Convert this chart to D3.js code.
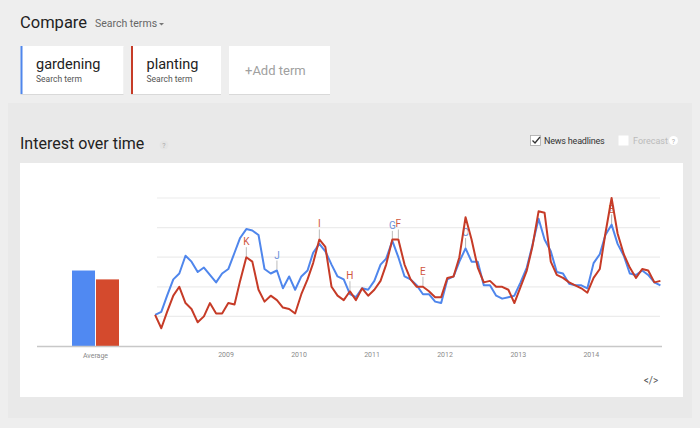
<!DOCTYPE html>
<html><head><meta charset="utf-8">
<script src="https://cdn.jsdelivr.net/npm/d3@7"></script>
<style>
html,body{margin:0;padding:0;background:#ededed;}
svg{display:block;}
text{font-family:Roboto,"Liberation Sans",Arial,sans-serif;}
</style></head>
<body>
<svg id="chart" width="700" height="428"></svg>
<script>
// ---------- data ----------
const terms = ["gardening", "planting"];
const averages = [51, 45];
const startMonth = "2008-01";
const gardening = [21,23,34,45,49,61,57,50,53,48,43,49,
  52,63,73,79,78,75,52,49,51,39,47,38,
  47,51,63,69,64,55,47,45,35,33,39,38,
  44,55,59,71,60,47,45,41,35,35,30,29,
  45,47,57,66,57,57,41,41,34,32,33,34,
  43,53,68,86,72,64,50,49,42,41,41,39,
  56,62,75,82,69,61,49,48,51,48,43,41];
const planting = [21,12,23,34,40,29,25,16,20,29,22,22,
  29,28,44,60,57,38,30,34,31,26,25,22,
  35,45,56,72,67,40,34,31,37,31,39,34,
  38,44,55,72,72,55,45,40,40,37,33,33,
  46,47,60,87,72,53,43,44,40,40,38,29,
  40,51,67,91,90,57,48,46,43,41,39,36,
  46,52,76,100,76,62,53,46,52,51,43,44];
const yearTicks = ["2009","2010","2011","2012","2013","2014"];
const gridValues = [20,40,60,80,100];
// news headline flags: letter, colour of the term, anchored series, month
const markerLetters = ["K","J","I","H","G","F","E","D","C","A","B"];
const markerTerms   = ["planting","gardening","planting","planting","gardening","planting","planting","planting","gardening","gardening","planting"];
const markerAnchor  = ["planting","gardening","planting","planting","gardening","planting","planting","gardening","gardening","gardening","gardening"];
const markerMonths  = ["2009-04","2009-09","2010-04","2010-09","2011-04","2011-05","2011-09","2012-04","2012-04","2014-04","2014-04"];

// ---------- setup ----------
const svg = d3.select("#chart");
const colors = {gardening:"#4f86ec", planting:"#c63b27"};
const barColors = {gardening:"#5089f2", planting:"#d44a2d"};
const parseM = d3.timeParse("%Y-%m");
const t0 = parseM(startMonth);
const dates = gardening.map((d,i)=> d3.timeDay.offset(d3.timeMonth.offset(t0,i),14));
const series = {gardening, planting};

// background section
svg.append("rect").attr("x",0).attr("y",0).attr("width",700).attr("height",428).attr("fill","#eeeeee");
svg.append("rect").attr("x",8).attr("y",103).attr("width",684).attr("height",315).attr("fill","#e9e9e9");

// header
svg.append("text").attr("x",20).attr("y",28).attr("font-size",16.5).attr("fill","#222").text("Compare");
svg.append("text").attr("x",95).attr("y",27).attr("font-size",10.5).attr("fill","#666").text("Search terms");
svg.append("path").attr("d","M159,23 l5,0 l-2.5,2.5 z").attr("fill","#777");

// cards
const cards = [
  {x:20.5,w:103,label:"gardening",c:colors.gardening},
  {x:131,w:90,label:"planting",c:colors.planting},
  {x:229,w:101,label:null,c:null}
];
cards.forEach(cd=>{
  svg.append("rect").attr("x",cd.x).attr("y",47).attr("width",cd.w).attr("height",48).attr("fill","#d9d9d9");
  svg.append("rect").attr("x",cd.x).attr("y",46).attr("width",cd.w).attr("height",48).attr("fill","#fff");
  if(cd.c){
    svg.append("rect").attr("x",cd.x).attr("y",46).attr("width",2).attr("height",48).attr("fill",cd.c);
    svg.append("text").attr("x",cd.x+15.5).attr("y",69).attr("font-size",14.5).attr("fill","#222").text(cd.label);
    svg.append("text").attr("x",cd.x+15.5).attr("y",82).attr("font-size",8.5).attr("fill","#555").text("Search term");
  } else {
    svg.append("text").attr("x",cd.x+16).attr("y",75).attr("font-size",13).attr("fill","#a0a0a0").text("+Add term");
  }
});

// interest over time header
svg.append("text").attr("x",20).attr("y",149).attr("font-size",16).attr("fill","#222").text("Interest over time");
svg.append("circle").attr("cx",164).attr("cy",145).attr("r",4.5).attr("fill","#e4e4e4");
svg.append("text").attr("x",164).attr("y",148).attr("text-anchor","middle").attr("font-size",7).attr("fill","#aaa").text("?");

// checkboxes
svg.append("rect").attr("x",530.5).attr("y",135.5).attr("width",10).attr("height",10).attr("fill","#fff").attr("stroke","#aaa").attr("stroke-width",0.8);
svg.append("path").attr("d","M532.5,140.5 l2.5,2.5 l5,-6").attr("fill","none").attr("stroke","#333").attr("stroke-width",1.3);
svg.append("text").attr("x",544).attr("y",143.5).attr("font-size",9).attr("fill","#333").attr("letter-spacing",-0.2).text("News headlines");
svg.append("rect").attr("x",618.5).attr("y",135.5).attr("width",10).attr("height",10).attr("fill","#fff");
svg.append("text").attr("x",633).attr("y",143.5).attr("font-size",9).attr("fill","#bbb").text("Forecast");
svg.append("circle").attr("cx",673.5).attr("cy",140.5).attr("r",4.5).attr("fill","#fff");
svg.append("text").attr("x",673.5).attr("y",143.5).attr("text-anchor","middle").attr("font-size",7).attr("fill","#aaa").text("?");

// chart panel
svg.append("rect").attr("x",20).attr("y",163).attr("width",663).attr("height",234).attr("fill","#fff");

// scales
const y = d3.scaleLinear().domain([0,100]).range([346,198]);
const x = d3.scaleTime().domain([t0, parseM("2015-01")]).range([152.3,663.8]);
const xb = d3.scaleBand().domain(terms).range([72,119]).paddingInner(0.04);

// gridlines
svg.append("g").selectAll("line").data(gridValues).join("line")
  .attr("x1",157).attr("x2",660).attr("y1",d=>y(d)).attr("y2",d=>y(d))
  .attr("stroke","#ececec").attr("stroke-width",1.2);

// average bars
svg.append("g").selectAll("rect").data(terms).join("rect")
  .attr("x",d=>xb(d)).attr("width",xb.bandwidth())
  .attr("y",(d,i)=>y(averages[i])).attr("height",(d,i)=>y(0)-y(averages[i]))
  .attr("fill",d=>barColors[d]);
svg.append("text").attr("x",95.5).attr("y",357.5).attr("text-anchor","middle")
  .attr("font-size",7).attr("fill","#888").attr("font-family","'Liberation Sans',Arial").text("Average");

// baseline
svg.append("line").attr("x1",37).attr("x2",662).attr("y1",y(0)+0.5).attr("y2",y(0)+0.5).attr("stroke","#c8c8c8").attr("stroke-width",1.5);

// x axis tick labels
const xAxis = d3.axisBottom(x).tickValues(yearTicks.map(s=>parseM(s+"-01"))).tickFormat(d3.timeFormat("%Y")).tickSize(0).tickPadding(6);
const ax = svg.append("g").attr("transform",`translate(0,${y(0)+0.5})`).call(xAxis);
ax.select(".domain").remove();
ax.selectAll("text").attr("font-size",7).attr("fill","#8a8a8a").attr("font-family","'Liberation Sans',Arial");

// news markers (drawn beneath lines)
const mg = svg.append("g");
markerLetters.forEach((L,i)=>{
  const term = markerTerms[i];
  const anchor = markerAnchor[i];
  const idx = d3.timeMonth.count(t0, parseM(markerMonths[i]));
  const px = x(dates[idx]), py = y(series[anchor][idx]);
  mg.append("line").attr("x1",px).attr("x2",px).attr("y1",py-1).attr("y2",py-10).attr("stroke","#bbb").attr("stroke-width",1);
  mg.append("text").attr("x",px).attr("y",py-12).attr("text-anchor","middle").attr("font-size",10)
    .attr("fill", term==="gardening" ? "#6e92dc" : "#cf5640").attr("fill-opacity", L==="D"||L==="A" ? 0.35 : 1).text(L);
});

// lines
const line = d3.line().x((d,i)=>x(dates[i])).y(d=>y(d));
["gardening","planting"].forEach(t=>{
  svg.append("path").datum(series[t]).attr("d",line).attr("fill","none")
    .attr("stroke",colors[t]).attr("stroke-width",2).attr("stroke-linejoin","round");
});

// embed icon
svg.append("text").attr("x",651).attr("y",384).attr("text-anchor","middle").attr("font-size",10).attr("fill","#555").text("</>");
</script>
</body></html>
